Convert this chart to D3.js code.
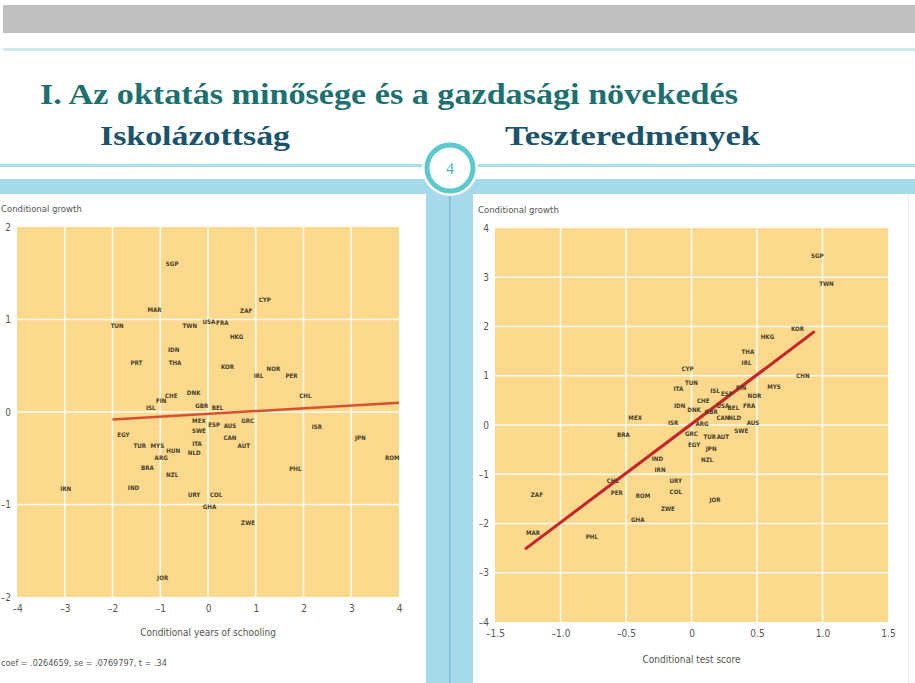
<!DOCTYPE html>
<html>
<head>
<meta charset="utf-8">
<script src="https://cdn.jsdelivr.net/npm/d3@7"></script>
<style>
  body { margin: 0; background: #fff; }
  svg { display: block; }
  .tick-label { font-family: "DejaVu Sans Condensed", "DejaVu Sans", sans-serif; font-stretch: condensed; fill: #555; }
  .code { font-family: "DejaVu Sans Condensed", "DejaVu Sans", sans-serif; font-weight: bold; fill: #4a3f2a; }
</style>
</head>
<body>
<svg id="slide" width="915" height="683"></svg>
<script>
// Bal oldali diagram: iskolázottság
var leftCodes = ["SGP","MAR","TUN","CYP","ZAF","TWN","USA","FRA","HKG","IDN","PRT","THA","KOR","IRL","NOR","PER","CHL","DNK","CHE","FIN","ISL","GBR","BEL","MEX","ESP","AUS","GRC","SWE","CAN","AUT","ITA","NLD","EGY","TUR","MYS","HUN","ARG","BRA","NZL","IRN","IND","URY","COL","GHA","ZWE","JOR","ISR","JPN","ROM","PHL"];
var leftX = [-0.75,-1.12,-1.9,1.19,0.8,-0.38,0.02,0.3,0.6,-0.72,-1.5,-0.69,0.41,1.06,1.37,1.75,2.04,-0.3,-0.77,-0.98,-1.2,-0.13,0.2,-0.19,0.13,0.46,0.83,-0.19,0.46,0.75,-0.23,-0.29,-1.77,-1.43,-1.06,-0.73,-0.98,-1.27,-0.75,-2.98,-1.56,-0.29,0.17,0.03,0.84,-0.95,2.28,3.19,3.86,1.83];
var leftY = [1.6,1.11,0.93,1.21,1.09,0.93,0.98,0.96,0.81,0.67,0.53,0.53,0.49,0.39,0.47,0.39,0.18,0.21,0.18,0.12,0.05,0.07,0.05,-0.1,-0.14,-0.15,-0.09,-0.2,-0.28,-0.37,-0.34,-0.44,-0.25,-0.37,-0.36,-0.42,-0.49,-0.6,-0.68,-0.83,-0.82,-0.9,-0.9,-1.02,-1.2,-1.79,-0.16,-0.28,-0.5,-0.61];
var leftFit = { intercept: -0.02, slope: 0.03, from: -2, to: 4 };
var leftXTicks = [-4,-3,-2,-1,0,1,2,3,4];
var leftYTicks = [2,1,0,-1,-2];

// Jobb oldali diagram: teszteredmények
var rightCodes = ["SGP","TWN","KOR","HKG","THA","IRL","CHN","MYS","CYP","TUN","ITA","IDN","CHE","DNK","ISL","ESP","FIN","NOR","FRA","BEL","USA","NLD","CAN","GBR","AUS","SWE","MEX","ISR","BRA","ARG","GRC","TUR","AUT","EGY","JPN","NZL","IND","IRN","URY","COL","CHL","PER","ROM","ZWE","GHA","JOR","ZAF","MAR","PHL"];
var rightX = [0.96,1.03,0.81,0.58,0.43,0.42,0.85,0.63,-0.03,0.0,-0.1,-0.09,0.09,0.02,0.18,0.27,0.38,0.48,0.44,0.32,0.24,0.33,0.24,0.15,0.47,0.38,-0.43,-0.14,-0.52,0.08,0.0,0.14,0.24,0.02,0.15,0.12,-0.26,-0.24,-0.12,-0.12,-0.6,-0.57,-0.37,-0.18,-0.41,0.18,-1.18,-1.21,-0.76];
var rightY = [3.43,2.86,1.95,1.8,1.48,1.26,0.99,0.77,1.14,0.85,0.73,0.4,0.5,0.3,0.69,0.63,0.75,0.6,0.39,0.35,0.39,0.14,0.14,0.26,0.04,-0.12,0.14,0.04,-0.2,0.02,-0.18,-0.24,-0.24,-0.41,-0.49,-0.71,-0.69,-0.91,-1.13,-1.35,-1.13,-1.37,-1.44,-1.71,-1.93,-1.52,-1.42,-2.19,-2.27];
var rightFit = { intercept: 0.02, slope: 2.0, from: -1.27, to: 0.94 };
var rightXTicks = [-1.5,-1.0,-0.5,0,0.5,1.0,1.5];
var rightXLabels = ["\u20131.5","\u20131.0","\u20130.5","0","0.5","1.0","1.5"];
var rightYTicks = [4,3,2,1,0,-1,-2,-3,-4];

var svg = d3.select("#slide");

// Dia háttér és díszítések
svg.append("rect").attr("x", 3).attr("y", 5).attr("width", 912).attr("height", 28).attr("fill", "#c0c0c0");
svg.append("rect").attr("x", 3).attr("y", 48).attr("width", 912).attr("height", 3).attr("fill", "#cdeef0");
svg.append("rect").attr("x", 0).attr("y", 164).attr("width", 915).attr("height", 3).attr("fill", "#a9e0e2");
svg.append("rect").attr("x", 0).attr("y", 179).attr("width", 915).attr("height", 15).attr("fill", "#a6d9ec");
svg.append("rect").attr("x", 426).attr("y", 179).attr("width", 47).attr("height", 504).attr("fill", "#a6d9ec");
svg.append("rect").attr("x", 449).attr("y", 194).attr("width", 1.5).attr("height", 489).attr("fill", "#7dbdd6");
svg.append("rect").attr("x", 908).attr("y", 194).attr("width", 1).attr("height", 489).attr("fill", "#e4f2f7");

svg.append("circle").attr("cx", 450).attr("cy", 168).attr("r", 28).attr("fill", "#fff");
svg.append("circle").attr("cx", 450).attr("cy", 168).attr("r", 23).attr("fill", "#fff")
    .attr("stroke", "#5cc9cc").attr("stroke-width", 5);
svg.append("text").attr("x", 450).attr("y", 174).attr("text-anchor", "middle")
    .attr("font-family", "Liberation Serif, serif").attr("font-size", 16).attr("fill", "#4fb9bd").text("4");

svg.append("text").attr("x", 40).attr("y", 104).attr("textLength", 698).attr("lengthAdjust", "spacingAndGlyphs")
    .attr("font-family", "Liberation Serif, DejaVu Serif, serif").attr("font-weight", "bold").attr("font-size", 30)
    .attr("fill", "#1e6f70").text("I. Az oktatás minősége és a gazdasági növekedés");
svg.append("text").attr("x", 100).attr("y", 145).attr("textLength", 190).attr("lengthAdjust", "spacingAndGlyphs")
    .attr("font-family", "Liberation Serif, DejaVu Serif, serif").attr("font-weight", "bold").attr("font-size", 27)
    .attr("fill", "#1b536b").text("Iskolázottság");
svg.append("text").attr("x", 505).attr("y", 145).attr("textLength", 255).attr("lengthAdjust", "spacingAndGlyphs")
    .attr("font-family", "Liberation Serif, DejaVu Serif, serif").attr("font-weight", "bold").attr("font-size", 27)
    .attr("fill", "#1b536b").text("Teszteredmények");

// Egy szórásdiagram kirajzolása
function drawScatter(opt) {
    var x = d3.scaleLinear().domain(opt.xDomain).range([opt.left, opt.right]),
        y = d3.scaleLinear().domain(opt.yDomain).range([opt.bottom, opt.top]);
    var g = svg.append("g");

    g.append("rect").attr("x", opt.left).attr("y", opt.top)
        .attr("width", opt.right - opt.left).attr("height", opt.bottom - opt.top)
        .attr("fill", "#fcd98c");

    // rácsvonalak
    g.selectAll(".vgrid").data(opt.xGrid).enter().append("line")
        .attr("x1", function (d) { return x(d); }).attr("x2", function (d) { return x(d); })
        .attr("y1", opt.top).attr("y2", opt.bottom)
        .attr("stroke", "#fffaf0").attr("stroke-width", 1.6);
    g.selectAll(".hgrid").data(opt.yGrid).enter().append("line")
        .attr("y1", function (d) { return y(d); }).attr("y2", function (d) { return y(d); })
        .attr("x1", opt.left).attr("x2", opt.right)
        .attr("stroke", "#fffaf0").attr("stroke-width", 1.6);

    // tengelyfeliratok
    var ax = g.append("g").attr("transform", "translate(0," + (opt.bottom + 5) + ")")
        .call(d3.axisBottom(x).tickValues(opt.xTicks).tickSize(0)
            .tickFormat(function (d, i) { return opt.xLabels[i]; }));
    var ay = g.append("g").attr("transform", "translate(" + (opt.left - 3) + ",0)")
        .call(d3.axisLeft(y).tickValues(opt.yTicks).tickSize(0)
            .tickFormat(function (d) { return d < 0 ? "\u2013" + Math.abs(d) : d; }));
    [ax, ay].forEach(function (a) {
        a.select(".domain").remove();
        a.selectAll("text").attr("class", "tick-label").attr("font-size", 10);
    });

    // regressziós egyenes
    var fx = [opt.fit.from, opt.fit.to];
    g.append("line")
        .attr("x1", x(fx[0])).attr("y1", y(opt.fit.intercept + opt.fit.slope * fx[0]))
        .attr("x2", x(fx[1])).attr("y2", y(opt.fit.intercept + opt.fit.slope * fx[1]))
        .attr("stroke", opt.lineColor).attr("stroke-width", opt.lineWidth);

    // országkódok
    g.selectAll(".code").data(opt.codes).enter().append("text")
        .attr("class", "code")
        .attr("x", function (d, i) { return x(opt.xs[i]); })
        .attr("y", function (d, i) { return y(opt.ys[i]) + 2.2; })
        .attr("text-anchor", "middle").attr("font-size", 6.2)
        .text(function (d) { return d; });

    g.append("text").attr("class", "tick-label").attr("x", opt.yTitleX).attr("y", opt.top - 15)
        .attr("font-size", 9.5).attr("fill", "#444").text("Conditional growth");
    g.append("text").attr("class", "tick-label").attr("x", (opt.left + opt.right) / 2).attr("y", opt.xTitleY)
        .attr("text-anchor", "middle").attr("font-size", 10).attr("fill", "#444").text(opt.xTitle);
}

drawScatter({
    xDomain: [-4, 4], yDomain: [-2, 2], left: 17, right: 399, top: 227, bottom: 597,
    xGrid: [-3, -2, -1, 0, 1, 2, 3], yGrid: [1, 0, -1],
    xTicks: leftXTicks, xLabels: leftXTicks.map(function (d) { return d < 0 ? "\u2013" + Math.abs(d) : "" + d; }),
    yTicks: leftYTicks, fit: leftFit, lineColor: "#d9502e", lineWidth: 2.5,
    codes: leftCodes, xs: leftX, ys: leftY,
    yTitleX: 1, xTitleY: 636, xTitle: "Conditional years of schooling"
});

drawScatter({
    xDomain: [-1.5, 1.5], yDomain: [-4, 4], left: 495, right: 888, top: 228, bottom: 622,
    xGrid: [-1.0, -0.5, 0, 0.5, 1.0], yGrid: [3, 2, 1, 0, -1, -2, -3],
    xTicks: rightXTicks, xLabels: rightXLabels,
    yTicks: rightYTicks, fit: rightFit, lineColor: "#c8222a", lineWidth: 3,
    codes: rightCodes, xs: rightX, ys: rightY,
    yTitleX: 478, xTitleY: 663, xTitle: "Conditional test score"
});

svg.append("text").attr("class", "tick-label").attr("x", 1).attr("y", 666)
    .attr("font-size", 9).attr("fill", "#555").text("coef = .0264659, se = .0769797, t = .34");
</script>
</body>
</html>
